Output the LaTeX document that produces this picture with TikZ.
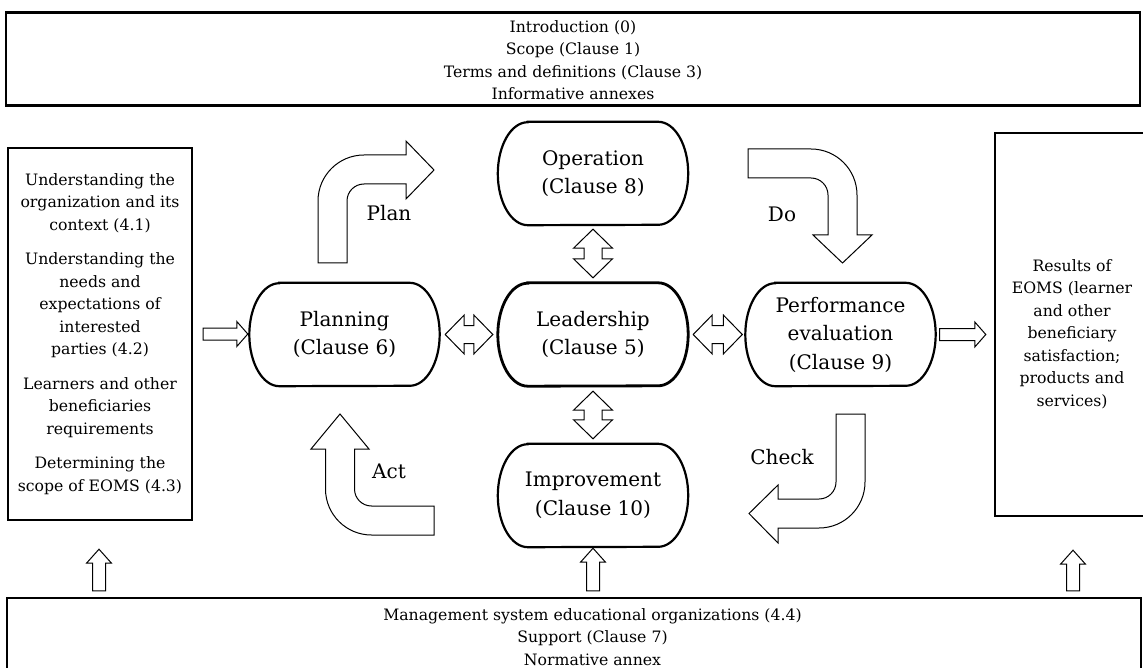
\documentclass[tikz,border=0pt]{standalone}
\usepackage{fontspec}
\setmainfont{DejaVu Serif}
\usetikzlibrary{calc}
\newcommand\capsule[2]{\draw[line width=#2] ($(#1.north west)+(30,0)$) -- ($(#1.north east)+(-30,0)$) arc[start angle=90,end angle=-90,x radius=30pt,y radius=51.5pt] -- ($(#1.south west)+(30,0)$) arc[start angle=270,end angle=90,x radius=30pt,y radius=51.5pt] -- cycle;}
\newcommand\hsarrow[2]{\draw[barrow] let \p1=(#1), \p2=(#2) in (\x1,\y1+6pt) -- (\x2-11pt,\y1+6pt) -- (\x2-11pt,\y1+12.5pt) -- (\x2,\y1) -- (\x2-11pt,\y1-12.5pt) -- (\x2-11pt,\y1-6pt) -- (\x1,\y1-6pt) -- cycle;}
\newcommand\vsarrow[2]{\draw[barrow] let \p1=(#1), \p2=(#2) in (\x1-6.5pt,\y1) -- (\x1-6.5pt,\y2-14pt) -- (\x1-12.5pt,\y2-14pt) -- (\x1,\y2) -- (\x1+12.5pt,\y2-14pt) -- (\x1+6.5pt,\y2-14pt) -- (\x1+6.5pt,\y1) -- cycle;}
\newcommand\hdarrow[2]{\draw[barrow] let \p1=(#1), \p2=(#2) in (\x1,\y1) -- (\x1+19pt,\y1+19.5pt) -- (\x1+19pt,\y1+9pt) -- (\x2-19pt,\y1+9pt) -- (\x2-19pt,\y1+19.5pt) -- (\x2,\y1) -- (\x2-19pt,\y1-19.5pt) -- (\x2-19pt,\y1-9pt) -- (\x1+19pt,\y1-9pt) -- (\x1+19pt,\y1-19.5pt) -- cycle;}
\newcommand\vdarrow[2]{\draw[barrow] let \p1=(#1), \p2=(#2) in (\x1,\y1) -- (\x1+19.5pt,\y1-19pt) -- (\x1+9pt,\y1-19pt) -- (\x1+9pt,\y2+19pt) -- (\x1+19.5pt,\y2+19pt) -- (\x1,\y2) -- (\x1-19.5pt,\y2+19pt) -- (\x1-9pt,\y2+19pt) -- (\x1-9pt,\y1-19pt) -- (\x1-19.5pt,\y1-19pt) -- cycle;}
\begin{document}
\begin{tikzpicture}[x=1pt,y=-1pt,
  box/.style={draw, line width=2.4pt, inner sep=0pt},
  capnode/.style={minimum width=190pt, minimum height=103pt, inner sep=0pt, align=center, font=\fontsize{20}{28.5}\selectfont},
  txt/.style={align=center, font=\fontsize{15.7}{22.5}\selectfont, inner sep=0pt},
  barrow/.style={draw, line width=1pt, fill=white, line join=miter},
  lbl/.style={font=\fontsize{20}{24}\selectfont, inner sep=0pt}]
\useasboundingbox (0,0) rectangle (1143,668);
\clip (0,0) rectangle (1143,668);
\fill[white] (0,0) rectangle (1143,668);

% boxes
\node[box, minimum width=1134pt, minimum height=93pt] (TB) at (573,59) {};
\node[txt] (TBt) at (573,60)
  {Introduction (0)\\Scope (Clause 1)\\Terms and definitions (Clause 3)\\Informative annexes};
\node[box, minimum width=1134pt, minimum height=102pt] (BB) at (574,649) {};
\node[txt] (BBt) at (592.5,637)
  {Management system educational organizations (4.4)\\Support (Clause 7)\\Normative annex};
\node[box, txt, minimum width=184pt, minimum height=372pt] (LB) at (100,334)
  {Understanding the\\organization and its\\context (4.1)\\[12pt]Understanding the\\needs and\\expectations of\\interested\\parties (4.2)\\[12pt]Learners and other\\beneficiaries\\requirements\\[12pt]Determining the\\scope of EOMS (4.3)};
\node[box, minimum width=155pt, minimum height=383pt] (RB) at (1072.5,324.5) {};
\node[txt] (RBt) at (1072,334)
  {Results of\\EOMS (learner\\and other\\beneficiary\\satisfaction;\\products and\\services)};

% capsules
\node[capnode] (Plan) at (344.5,334.5) {Planning\\(Clause 6)};
\node[capnode] (Lead) at (593,334.5) {Leadership\\(Clause 5)};
\node[capnode] (Oper) at (593,173.5) {Operation\\(Clause 8)};
\node[capnode] (Perf) at (840.5,334.5) {Performance\\evaluation\\(Clause 9)};
\node[capnode] (Impr) at (593,495.5) {Improvement\\(Clause 10)};
\capsule{Plan}{2.2pt}
\capsule{Lead}{2.8pt}
\capsule{Oper}{2.2pt}
\capsule{Perf}{2.2pt}
\capsule{Impr}{2.2pt}

% double arrows
\vdarrow{$(Oper.south)+(0,4)$}{$(Lead.north)+(0,-5)$}
\vdarrow{$(Lead.south)+(0,5)$}{$(Impr.north)+(0,-5)$}
\hdarrow{$(Plan.east)+(5.5,0)$}{$(Lead.west)+(-5,0)$}
\hdarrow{$(Lead.east)+(5,0)$}{$(Perf.west)+(-3,0)$}

% single arrows
\hsarrow{$(LB.east)+(10,0)$}{$(Plan.west)+(-1.5,0)$}
\hsarrow{$(Perf.east)+(4,0)$}{$(RB.west |- Perf.east)+(-8,0)$}
\vsarrow{$(BB.north -| LB.south)+(-1,-6)$}{$(LB.south)+(-1,28)$}
\vsarrow{$(BB.north -| Impr.south)+(0,-6)$}{$(Impr.south)+(0,1)$}
\vsarrow{$(BB.north -| RB.south)+(0.5,-6)$}{$(RB.south)+(0.5,33)$}

% bent PDCA arrows
\draw[barrow] (318,263) -- (318,201) arc[start angle=180,end angle=90,radius=46pt] -- (406,155) -- (406,141) -- (434,170) -- (406,199) -- (406,184) -- (364,184) arc[start angle=90,end angle=180,radius=17pt] -- (347,263) -- cycle;
\draw[barrow] (748,149) -- (811,149) arc[start angle=90,end angle=0,radius=46pt] -- (857,235) -- (872,235) -- (842.5,263) -- (813,235) -- (828,235) -- (828,195) arc[start angle=0,end angle=90,radius=17pt] -- (748,178) -- cycle;
\draw[barrow] (434,506) -- (371.5,506) arc[start angle=270,end angle=180,radius=17pt] -- (354.5,449) -- (369,449) -- (340,414) -- (311,449) -- (325.5,449) -- (325.5,489) arc[start angle=180,end angle=270,radius=46pt] -- (434,535) -- cycle;
\draw[barrow] (836,414) -- (865,414) -- (865,482) arc[start angle=0,end angle=-90,radius=46pt] -- (778,528) -- (778,543) -- (749,513.5) -- (778,485) -- (778,499) -- (819,499) arc[start angle=270,end angle=360,radius=17pt] -- cycle;

\node[lbl] (lplan) at (389,213) {Plan};
\node[lbl] (ldo) at (782,214) {Do};
\node[lbl] (lact) at (389,471) {Act};
\node[lbl] (lcheck) at (782,457) {Check};
\end{tikzpicture}
\end{document}
